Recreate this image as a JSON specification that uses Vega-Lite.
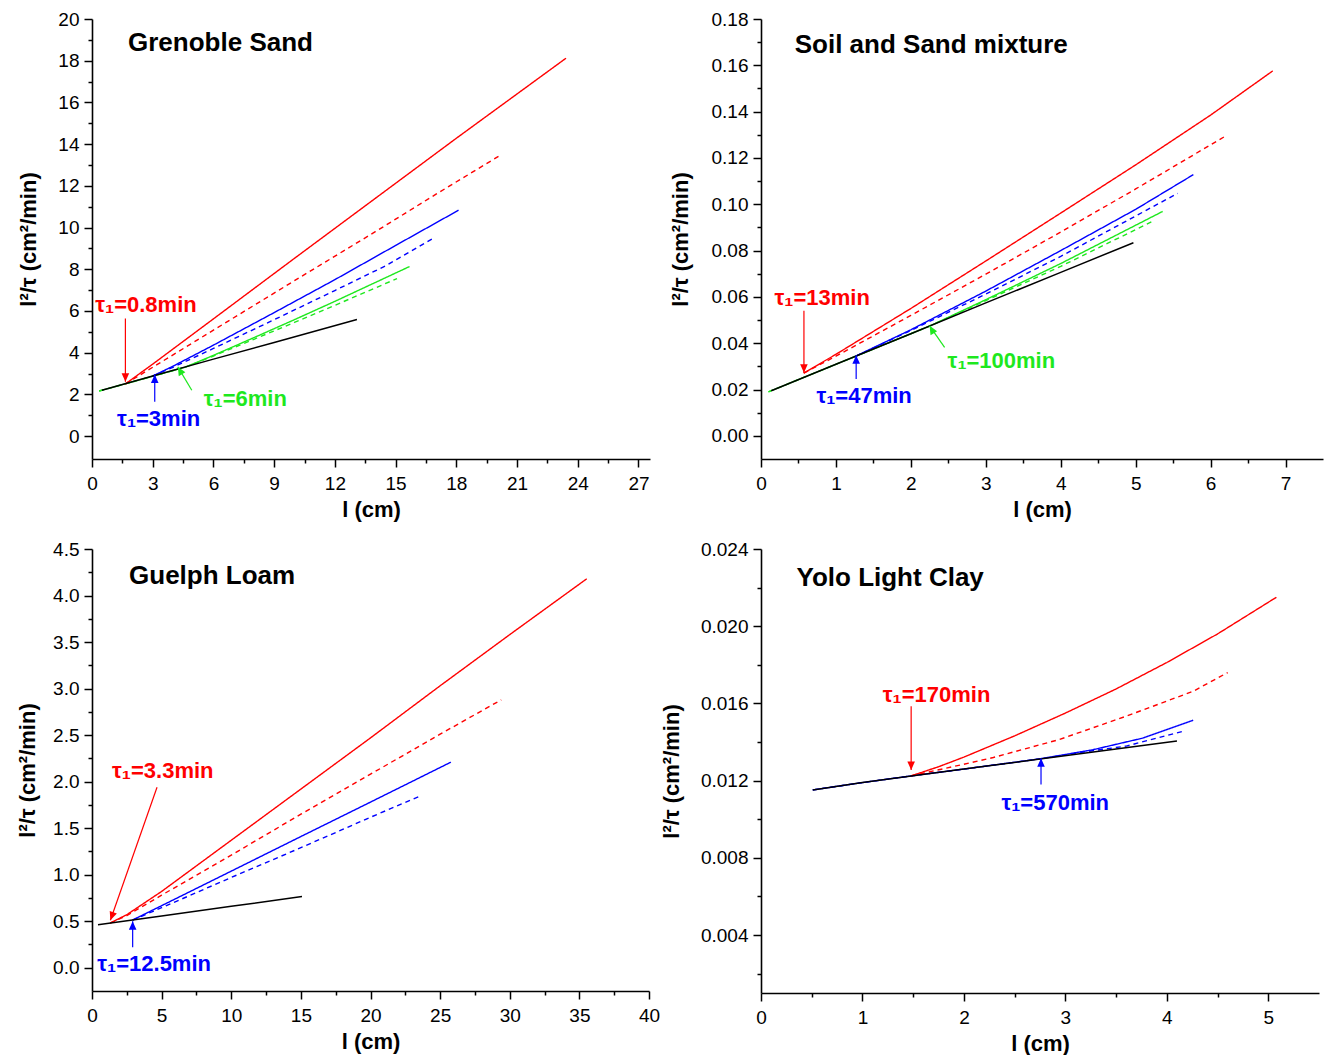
{
  "$schema": "https://vega.github.io/schema/vega-lite/v6.json",
  "background": "white",
  "padding": {"left": 16, "top": 10, "right": 6, "bottom": 6},
  "bounds": "flush",
  "align": "each",
  "columns": 2,
  "spacing": {"row": 90, "column": 111},
  "datasets": {
    "grenoble_curves": [
      {"x": 0.49, "y": 2.2, "color": "black", "style": "solid"},
      {"x": 3, "y": 2.88, "color": "black", "style": "solid"},
      {"x": 6, "y": 3.69, "color": "black", "style": "solid"},
      {"x": 9, "y": 4.49, "color": "black", "style": "solid"},
      {"x": 13.09, "y": 5.59, "color": "black", "style": "solid"},
      {"x": 0.35, "y": 2.16, "color": "green", "style": "solid"},
      {"x": 2, "y": 2.6, "color": "green", "style": "solid"},
      {"x": 4.6, "y": 3.3, "color": "green", "style": "solid"},
      {"x": 6, "y": 3.87, "color": "green", "style": "solid"},
      {"x": 8, "y": 4.72, "color": "green", "style": "solid"},
      {"x": 10, "y": 5.58, "color": "green", "style": "solid"},
      {"x": 12, "y": 6.46, "color": "green", "style": "solid"},
      {"x": 15.69, "y": 8.13, "color": "green", "style": "solid"},
      {"x": 0.35, "y": 2.16, "color": "green", "style": "dashed"},
      {"x": 2, "y": 2.6, "color": "green", "style": "dashed"},
      {"x": 4.6, "y": 3.3, "color": "green", "style": "dashed"},
      {"x": 6, "y": 3.84, "color": "green", "style": "dashed"},
      {"x": 8, "y": 4.64, "color": "green", "style": "dashed"},
      {"x": 10, "y": 5.45, "color": "green", "style": "dashed"},
      {"x": 12, "y": 6.27, "color": "green", "style": "dashed"},
      {"x": 15.07, "y": 7.55, "color": "green", "style": "dashed"},
      {"x": 3, "y": 2.88, "color": "blue", "style": "solid"},
      {"x": 4, "y": 3.35, "color": "blue", "style": "solid"},
      {"x": 6, "y": 4.36, "color": "blue", "style": "solid"},
      {"x": 9, "y": 5.92, "color": "blue", "style": "solid"},
      {"x": 12, "y": 7.5, "color": "blue", "style": "solid"},
      {"x": 15, "y": 9.14, "color": "blue", "style": "solid"},
      {"x": 18.11, "y": 10.83, "color": "blue", "style": "solid"},
      {"x": 3, "y": 2.88, "color": "blue", "style": "dashed"},
      {"x": 4, "y": 3.3, "color": "blue", "style": "dashed"},
      {"x": 6, "y": 4.2, "color": "blue", "style": "dashed"},
      {"x": 9, "y": 5.58, "color": "blue", "style": "dashed"},
      {"x": 12, "y": 6.98, "color": "blue", "style": "dashed"},
      {"x": 14.5, "y": 8.16, "color": "blue", "style": "dashed"},
      {"x": 16.93, "y": 9.52, "color": "blue", "style": "dashed"},
      {"x": 1.65, "y": 2.5, "color": "red", "style": "solid"},
      {"x": 3, "y": 3.45, "color": "red", "style": "solid"},
      {"x": 6, "y": 5.62, "color": "red", "style": "solid"},
      {"x": 10, "y": 8.52, "color": "red", "style": "solid"},
      {"x": 14, "y": 11.4, "color": "red", "style": "solid"},
      {"x": 18, "y": 14.28, "color": "red", "style": "solid"},
      {"x": 23.42, "y": 18.12, "color": "red", "style": "solid"},
      {"x": 1.65, "y": 2.5, "color": "red", "style": "dashed"},
      {"x": 3, "y": 3.3, "color": "red", "style": "dashed"},
      {"x": 6, "y": 5.08, "color": "red", "style": "dashed"},
      {"x": 10, "y": 7.45, "color": "red", "style": "dashed"},
      {"x": 14, "y": 9.8, "color": "red", "style": "dashed"},
      {"x": 17, "y": 11.6, "color": "red", "style": "dashed"},
      {"x": 20.13, "y": 13.44, "color": "red", "style": "dashed"}
    ],
    "grenoble_arrows": [
      {"x": 1.65, "y": 5.64, "x2": 1.65, "y2": 2.6, "color": "red", "dir": "down"},
      {"x": 3.1, "y": 1.64, "x2": 3.1, "y2": 2.95, "color": "blue", "dir": "up"},
      {"x": 4.93, "y": 2.2, "x2": 4.24, "y2": 3.32, "color": "green", "dir": "upleft"}
    ],
    "grenoble_notes": [
      {"x": 0.16, "y": 6.27, "text": "τ₁=0.8min", "color": "red"},
      {"x": 1.24, "y": 0.84, "text": "τ₁=3min", "color": "blue"},
      {"x": 5.52, "y": 1.8, "text": "τ₁=6min", "color": "green"}
    ],
    "soil_curves": [
      {"x": 0.137, "y": 0.0195, "color": "black", "style": "solid"},
      {"x": 1, "y": 0.0309, "color": "black", "style": "solid"},
      {"x": 2, "y": 0.0441, "color": "black", "style": "solid"},
      {"x": 3, "y": 0.0574, "color": "black", "style": "solid"},
      {"x": 4, "y": 0.0706, "color": "black", "style": "solid"},
      {"x": 4.97, "y": 0.0834, "color": "black", "style": "solid"},
      {"x": 0.1, "y": 0.019, "color": "green", "style": "solid"},
      {"x": 1, "y": 0.0309, "color": "green", "style": "solid"},
      {"x": 2.25, "y": 0.0474, "color": "green", "style": "solid"},
      {"x": 3, "y": 0.0588, "color": "green", "style": "solid"},
      {"x": 4, "y": 0.0744, "color": "green", "style": "solid"},
      {"x": 5.36, "y": 0.0969, "color": "green", "style": "solid"},
      {"x": 0.1, "y": 0.019, "color": "green", "style": "dashed"},
      {"x": 1, "y": 0.0309, "color": "green", "style": "dashed"},
      {"x": 2.25, "y": 0.0474, "color": "green", "style": "dashed"},
      {"x": 3, "y": 0.0584, "color": "green", "style": "dashed"},
      {"x": 4, "y": 0.0732, "color": "green", "style": "dashed"},
      {"x": 5.23, "y": 0.0927, "color": "green", "style": "dashed"},
      {"x": 1.27, "y": 0.0345, "color": "blue", "style": "solid"},
      {"x": 2, "y": 0.0458, "color": "blue", "style": "solid"},
      {"x": 3, "y": 0.0625, "color": "blue", "style": "solid"},
      {"x": 4, "y": 0.08, "color": "blue", "style": "solid"},
      {"x": 5, "y": 0.0978, "color": "blue", "style": "solid"},
      {"x": 5.77, "y": 0.1128, "color": "blue", "style": "solid"},
      {"x": 1.27, "y": 0.0345, "color": "blue", "style": "dashed"},
      {"x": 2, "y": 0.0455, "color": "blue", "style": "dashed"},
      {"x": 3, "y": 0.0612, "color": "blue", "style": "dashed"},
      {"x": 4, "y": 0.0775, "color": "blue", "style": "dashed"},
      {"x": 5.56, "y": 0.1047, "color": "blue", "style": "dashed"},
      {"x": 0.57, "y": 0.0271, "color": "red", "style": "solid"},
      {"x": 1, "y": 0.0352, "color": "red", "style": "solid"},
      {"x": 2, "y": 0.055, "color": "red", "style": "solid"},
      {"x": 3, "y": 0.0755, "color": "red", "style": "solid"},
      {"x": 4, "y": 0.0962, "color": "red", "style": "solid"},
      {"x": 5, "y": 0.117, "color": "red", "style": "solid"},
      {"x": 6, "y": 0.1385, "color": "red", "style": "solid"},
      {"x": 6.83, "y": 0.1576, "color": "red", "style": "solid"},
      {"x": 0.57, "y": 0.0271, "color": "red", "style": "dashed"},
      {"x": 1, "y": 0.0344, "color": "red", "style": "dashed"},
      {"x": 2, "y": 0.052, "color": "red", "style": "dashed"},
      {"x": 3, "y": 0.0698, "color": "red", "style": "dashed"},
      {"x": 4, "y": 0.088, "color": "red", "style": "dashed"},
      {"x": 5, "y": 0.1066, "color": "red", "style": "dashed"},
      {"x": 6.18, "y": 0.1291, "color": "red", "style": "dashed"}
    ],
    "soil_arrows": [
      {"x": 0.573, "y": 0.054, "x2": 0.573, "y2": 0.0272, "color": "red", "dir": "down"},
      {"x": 1.27, "y": 0.0245, "x2": 1.27, "y2": 0.0348, "color": "blue", "dir": "up"},
      {"x": 2.45, "y": 0.0382, "x2": 2.25, "y2": 0.0475, "color": "green", "dir": "upleft"}
    ],
    "soil_notes": [
      {"x": 0.18, "y": 0.0597, "text": "τ₁=13min", "color": "red"},
      {"x": 0.74, "y": 0.01736, "text": "τ₁=47min", "color": "blue"},
      {"x": 2.49, "y": 0.0322, "text": "τ₁=100min", "color": "green"}
    ],
    "guelph_curves": [
      {"x": 0.43, "y": 0.461, "color": "black", "style": "solid"},
      {"x": 5, "y": 0.556, "color": "black", "style": "solid"},
      {"x": 10, "y": 0.66, "color": "black", "style": "solid"},
      {"x": 15.08, "y": 0.765, "color": "black", "style": "solid"},
      {"x": 1.3, "y": 0.48, "color": "red", "style": "solid"},
      {"x": 2.5, "y": 0.57, "color": "red", "style": "solid"},
      {"x": 5, "y": 0.82, "color": "red", "style": "solid"},
      {"x": 10, "y": 1.37, "color": "red", "style": "solid"},
      {"x": 15, "y": 1.92, "color": "red", "style": "solid"},
      {"x": 20, "y": 2.47, "color": "red", "style": "solid"},
      {"x": 25, "y": 3.03, "color": "red", "style": "solid"},
      {"x": 30, "y": 3.58, "color": "red", "style": "solid"},
      {"x": 35.53, "y": 4.18, "color": "red", "style": "solid"},
      {"x": 1.3, "y": 0.48, "color": "red", "style": "dashed"},
      {"x": 2.5, "y": 0.56, "color": "red", "style": "dashed"},
      {"x": 5, "y": 0.78, "color": "red", "style": "dashed"},
      {"x": 10, "y": 1.21, "color": "red", "style": "dashed"},
      {"x": 15, "y": 1.65, "color": "red", "style": "dashed"},
      {"x": 20, "y": 2.08, "color": "red", "style": "dashed"},
      {"x": 25, "y": 2.51, "color": "red", "style": "dashed"},
      {"x": 29.39, "y": 2.879, "color": "red", "style": "dashed"},
      {"x": 2.92, "y": 0.513, "color": "blue", "style": "solid"},
      {"x": 5, "y": 0.667, "color": "blue", "style": "solid"},
      {"x": 10, "y": 1.038, "color": "blue", "style": "solid"},
      {"x": 15, "y": 1.41, "color": "blue", "style": "solid"},
      {"x": 20, "y": 1.78, "color": "blue", "style": "solid"},
      {"x": 25.77, "y": 2.209, "color": "blue", "style": "solid"},
      {"x": 2.92, "y": 0.513, "color": "blue", "style": "dashed"},
      {"x": 5, "y": 0.645, "color": "blue", "style": "dashed"},
      {"x": 10, "y": 0.97, "color": "blue", "style": "dashed"},
      {"x": 15, "y": 1.29, "color": "blue", "style": "dashed"},
      {"x": 20, "y": 1.617, "color": "blue", "style": "dashed"},
      {"x": 23.64, "y": 1.85, "color": "blue", "style": "dashed"}
    ],
    "guelph_arrows": [
      {"x": 4.67, "y": 1.94, "x2": 1.32, "y2": 0.51, "color": "red", "dir": "downleft"},
      {"x": 2.92, "y": 0.22, "x2": 2.92, "y2": 0.5, "color": "blue", "dir": "up"}
    ],
    "guelph_notes": [
      {"x": 1.44, "y": 2.11, "text": "τ₁=3.3min", "color": "red"},
      {"x": 0.38, "y": 0.04, "text": "τ₁=12.5min", "color": "blue"}
    ],
    "yolo_curves": [
      {"x": 0.51, "y": 0.01152, "color": "black", "style": "solid"},
      {"x": 1.0, "y": 0.0119, "color": "black", "style": "solid"},
      {"x": 1.5, "y": 0.01226, "color": "black", "style": "solid"},
      {"x": 2.0, "y": 0.0126, "color": "black", "style": "solid"},
      {"x": 2.75, "y": 0.01312, "color": "black", "style": "solid"},
      {"x": 3.5, "y": 0.01364, "color": "black", "style": "solid"},
      {"x": 4.1, "y": 0.01406, "color": "black", "style": "solid"},
      {"x": 0.51, "y": 0.01152, "color": "blue", "style": "solid"},
      {"x": 1.0, "y": 0.0119, "color": "blue", "style": "solid"},
      {"x": 1.5, "y": 0.01226, "color": "blue", "style": "solid"},
      {"x": 2.0, "y": 0.0126, "color": "blue", "style": "solid"},
      {"x": 2.75, "y": 0.01313, "color": "blue", "style": "solid"},
      {"x": 3.27, "y": 0.0136, "color": "blue", "style": "solid"},
      {"x": 3.76, "y": 0.0142, "color": "blue", "style": "solid"},
      {"x": 4.26, "y": 0.01513, "color": "blue", "style": "solid"},
      {"x": 0.51, "y": 0.01152, "color": "blue", "style": "dashed"},
      {"x": 1.0, "y": 0.0119, "color": "blue", "style": "dashed"},
      {"x": 1.5, "y": 0.01226, "color": "blue", "style": "dashed"},
      {"x": 2.0, "y": 0.0126, "color": "blue", "style": "dashed"},
      {"x": 2.75, "y": 0.01313, "color": "blue", "style": "dashed"},
      {"x": 3.2, "y": 0.0135, "color": "blue", "style": "dashed"},
      {"x": 3.6, "y": 0.01379, "color": "blue", "style": "dashed"},
      {"x": 4.16, "y": 0.01456, "color": "blue", "style": "dashed"},
      {"x": 1.48, "y": 0.01225, "color": "red", "style": "solid"},
      {"x": 1.75, "y": 0.01272, "color": "red", "style": "solid"},
      {"x": 2.0, "y": 0.01322, "color": "red", "style": "solid"},
      {"x": 2.5, "y": 0.01432, "color": "red", "style": "solid"},
      {"x": 3.0, "y": 0.0155, "color": "red", "style": "solid"},
      {"x": 3.5, "y": 0.01675, "color": "red", "style": "solid"},
      {"x": 4.0, "y": 0.01812, "color": "red", "style": "solid"},
      {"x": 4.5, "y": 0.0196, "color": "red", "style": "solid"},
      {"x": 5.08, "y": 0.0215, "color": "red", "style": "solid"},
      {"x": 1.48, "y": 0.01225, "color": "red", "style": "dashed"},
      {"x": 2.0, "y": 0.01285, "color": "red", "style": "dashed"},
      {"x": 2.29, "y": 0.0132, "color": "red", "style": "dashed"},
      {"x": 2.94, "y": 0.01413, "color": "red", "style": "dashed"},
      {"x": 3.6, "y": 0.01534, "color": "red", "style": "dashed"},
      {"x": 4.26, "y": 0.01663, "color": "red", "style": "dashed"},
      {"x": 4.6, "y": 0.0176, "color": "red", "style": "dashed"}
    ],
    "yolo_arrows": [
      {"x": 1.48, "y": 0.01586, "x2": 1.48, "y2": 0.01255, "color": "red", "dir": "down"},
      {"x": 2.76, "y": 0.0118, "x2": 2.76, "y2": 0.01316, "color": "blue", "dir": "up"}
    ],
    "yolo_notes": [
      {"x": 1.2, "y": 0.01646, "text": "τ₁=170min", "color": "red"},
      {"x": 2.37, "y": 0.01085, "text": "τ₁=570min", "color": "blue"}
    ]
  },
  "concat": [
    {
      "width": 558,
      "height": 440,
      "resolve": {"axis": {"x": "independent", "y": "independent"}},
      "layer": [
        {
          "data": {"name": "grenoble_curves"},
          "transform": [{"filter": "datum.color != 'black'"}],
          "mark": {"type": "line", "strokeWidth": 1.4},
          "encoding": {
            "x": {"field": "x", "type": "quantitative", "scale": {"domain": [0, 27.57], "nice": false, "zero": false},
                  "axis": {"orient": "bottom", "values": [0, 3, 6, 9, 12, 15, 18, 21, 24, 27], "format": "d", "title": "l (cm)"}},
            "y": {"field": "y", "type": "quantitative", "scale": {"domain": [-1.1, 20], "nice": false, "zero": false},
                  "axis": {"orient": "left", "values": [0, 2, 4, 6, 8, 10, 12, 14, 16, 18, 20], "format": "d", "title": "l²/τ (cm²/min)", "titlePadding": 17}},
            "color": {"field": "color", "type": "nominal", "scale": {"domain": ["black", "red", "blue", "green"], "range": ["#000000", "#ff0000", "#0000ff", "#1ee81e"]}, "legend": null},
            "strokeDash": {"field": "style", "type": "nominal", "scale": {"domain": ["solid", "dashed"], "range": [[1, 0], [5, 4]]}, "legend": null}
          }
        },
        {
          "data": {"name": "grenoble_curves"},
          "transform": [{"filter": "datum.color == 'black'"}],
          "mark": {"type": "line", "strokeWidth": 1.5, "color": "#000000"},
          "encoding": {
            "x": {"field": "x", "type": "quantitative", "axis": {"orient": "bottom", "values": [1.5, 4.5, 7.5, 10.5, 13.5, 16.5, 19.5, 22.5, 25.5], "labels": false, "domain": false, "tickSize": 4, "title": null}},
            "y": {"field": "y", "type": "quantitative", "axis": {"orient": "left", "values": [1, 3, 5, 7, 9, 11, 13, 15, 17, 19], "labels": false, "domain": false, "tickSize": 4, "title": null}}
          }
        },
        {
          "data": {"name": "grenoble_arrows"},
          "mark": {"type": "rule", "strokeWidth": 1.2},
          "encoding": {
            "x": {"field": "x", "type": "quantitative", "axis": null},
            "y": {"field": "y", "type": "quantitative", "axis": null},
            "x2": {"field": "x2"},
            "y2": {"field": "y2"},
            "color": {"field": "color", "type": "nominal", "legend": null}
          }
        },
        {
          "data": {"name": "grenoble_arrows"},
          "mark": {"type": "point", "filled": true, "opacity": 1, "size": 160, "strokeWidth": 0},
          "encoding": {
            "x": {"field": "x2", "type": "quantitative", "axis": null},
            "y": {"field": "y2", "type": "quantitative", "axis": null},
            "shape": {"field": "dir", "type": "nominal", "legend": null,
                      "scale": {"domain": ["up", "down", "upleft", "downleft"], "range": ["M0,0L-0.6,1.35L0.6,1.35Z", "M0,0L-0.6,-1.35L0.6,-1.35Z", "M0,0L0.15,1.47L1.19,0.87Z", "M0,0L1.023,-1.064L-0.105,-1.474Z"]}},
            "color": {"field": "color", "type": "nominal", "legend": null}
          }
        },
        {
          "data": {"name": "grenoble_notes"},
          "mark": {"type": "text", "align": "left", "baseline": "middle", "font": "Liberation Sans", "fontSize": 22, "fontWeight": "bold"},
          "encoding": {
            "x": {"field": "x", "type": "quantitative", "axis": null},
            "y": {"field": "y", "type": "quantitative", "axis": null},
            "text": {"field": "text"},
            "color": {"field": "color", "type": "nominal", "legend": null}
          }
        },
        {
          "data": {"values": [{"x": 1.78, "y": 18.87, "name": "Grenoble Sand"}]},
          "mark": {"type": "text", "align": "left", "baseline": "middle", "font": "Liberation Sans", "fontSize": 26, "fontWeight": "bold", "color": "#000000"},
          "encoding": {
            "x": {"field": "x", "type": "quantitative", "axis": null},
            "y": {"field": "y", "type": "quantitative", "axis": null},
            "text": {"field": "name"}
          }
        }
      ]
    },
    {
      "width": 562,
      "height": 440,
      "resolve": {"axis": {"x": "independent", "y": "independent"}},
      "layer": [
        {
          "data": {"name": "soil_curves"},
          "transform": [{"filter": "datum.color != 'black'"}],
          "mark": {"type": "line", "strokeWidth": 1.4},
          "encoding": {
            "x": {"field": "x", "type": "quantitative", "scale": {"domain": [0, 7.5], "nice": false, "zero": false},
                  "axis": {"orient": "bottom", "values": [0, 1, 2, 3, 4, 5, 6, 7], "format": "d", "title": "l (cm)"}},
            "y": {"field": "y", "type": "quantitative", "scale": {"domain": [-0.01, 0.18], "nice": false, "zero": false},
                  "axis": {"orient": "left", "values": [0, 0.02, 0.04, 0.06, 0.08, 0.1, 0.12, 0.14, 0.16, 0.18], "format": ".2f", "title": "l²/τ (cm²/min)", "titlePadding": 19}},
            "color": {"field": "color", "type": "nominal", "scale": {"domain": ["black", "red", "blue", "green"], "range": ["#000000", "#ff0000", "#0000ff", "#1ee81e"]}, "legend": null},
            "strokeDash": {"field": "style", "type": "nominal", "scale": {"domain": ["solid", "dashed"], "range": [[1, 0], [5, 4]]}, "legend": null}
          }
        },
        {
          "data": {"name": "soil_curves"},
          "transform": [{"filter": "datum.color == 'black'"}],
          "mark": {"type": "line", "strokeWidth": 1.5, "color": "#000000"},
          "encoding": {
            "x": {"field": "x", "type": "quantitative", "axis": {"orient": "bottom", "values": [0.5, 1.5, 2.5, 3.5, 4.5, 5.5, 6.5], "labels": false, "domain": false, "tickSize": 4, "title": null}},
            "y": {"field": "y", "type": "quantitative", "axis": {"orient": "left", "values": [0.01, 0.03, 0.05, 0.07, 0.09, 0.11, 0.13, 0.15, 0.17], "labels": false, "domain": false, "tickSize": 4, "title": null}}
          }
        },
        {
          "data": {"name": "soil_arrows"},
          "mark": {"type": "rule", "strokeWidth": 1.2},
          "encoding": {
            "x": {"field": "x", "type": "quantitative", "axis": null},
            "y": {"field": "y", "type": "quantitative", "axis": null},
            "x2": {"field": "x2"},
            "y2": {"field": "y2"},
            "color": {"field": "color", "type": "nominal", "legend": null}
          }
        },
        {
          "data": {"name": "soil_arrows"},
          "mark": {"type": "point", "filled": true, "opacity": 1, "size": 160, "strokeWidth": 0},
          "encoding": {
            "x": {"field": "x2", "type": "quantitative", "axis": null},
            "y": {"field": "y2", "type": "quantitative", "axis": null},
            "shape": {"field": "dir", "type": "nominal", "legend": null,
                      "scale": {"domain": ["up", "down", "upleft", "downleft"], "range": ["M0,0L-0.6,1.35L0.6,1.35Z", "M0,0L-0.6,-1.35L0.6,-1.35Z", "M0,0L0.15,1.47L1.19,0.87Z", "M0,0L1.023,-1.064L-0.105,-1.474Z"]}},
            "color": {"field": "color", "type": "nominal", "legend": null}
          }
        },
        {
          "data": {"name": "soil_notes"},
          "mark": {"type": "text", "align": "left", "baseline": "middle", "font": "Liberation Sans", "fontSize": 22, "fontWeight": "bold"},
          "encoding": {
            "x": {"field": "x", "type": "quantitative", "axis": null},
            "y": {"field": "y", "type": "quantitative", "axis": null},
            "text": {"field": "text"},
            "color": {"field": "color", "type": "nominal", "legend": null}
          }
        },
        {
          "data": {"values": [{"x": 0.45, "y": 0.1688, "name": "Soil and Sand mixture"}]},
          "mark": {"type": "text", "align": "left", "baseline": "middle", "font": "Liberation Sans", "fontSize": 26, "fontWeight": "bold", "color": "#000000"},
          "encoding": {
            "x": {"field": "x", "type": "quantitative", "axis": null},
            "y": {"field": "y", "type": "quantitative", "axis": null},
            "text": {"field": "name"}
          }
        }
      ]
    },
    {
      "width": 557,
      "height": 442,
      "resolve": {"axis": {"x": "independent", "y": "independent"}},
      "layer": [
        {
          "data": {"name": "guelph_curves"},
          "transform": [{"filter": "datum.color != 'black'"}],
          "mark": {"type": "line", "strokeWidth": 1.4},
          "encoding": {
            "x": {"field": "x", "type": "quantitative", "scale": {"domain": [0, 40], "nice": false, "zero": false},
                  "axis": {"orient": "bottom", "values": [0, 5, 10, 15, 20, 25, 30, 35, 40], "format": "d", "title": "l (cm)"}},
            "y": {"field": "y", "type": "quantitative", "scale": {"domain": [-0.25, 4.5], "nice": false, "zero": false},
                  "axis": {"orient": "left", "values": [0, 0.5, 1, 1.5, 2, 2.5, 3, 3.5, 4, 4.5], "format": ".1f", "title": "l²/τ (cm²/min)", "titlePadding": 13}},
            "color": {"field": "color", "type": "nominal", "scale": {"domain": ["black", "red", "blue", "green"], "range": ["#000000", "#ff0000", "#0000ff", "#1ee81e"]}, "legend": null},
            "strokeDash": {"field": "style", "type": "nominal", "scale": {"domain": ["solid", "dashed"], "range": [[1, 0], [5, 4]]}, "legend": null}
          }
        },
        {
          "data": {"name": "guelph_curves"},
          "transform": [{"filter": "datum.color == 'black'"}],
          "mark": {"type": "line", "strokeWidth": 1.5, "color": "#000000"},
          "encoding": {
            "x": {"field": "x", "type": "quantitative", "axis": {"orient": "bottom", "values": [2.5, 7.5, 12.5, 17.5, 22.5, 27.5, 32.5, 37.5], "labels": false, "domain": false, "tickSize": 4, "title": null}},
            "y": {"field": "y", "type": "quantitative", "axis": {"orient": "left", "values": [0.25, 0.75, 1.25, 1.75, 2.25, 2.75, 3.25, 3.75, 4.25], "labels": false, "domain": false, "tickSize": 4, "title": null}}
          }
        },
        {
          "data": {"name": "guelph_arrows"},
          "mark": {"type": "rule", "strokeWidth": 1.2},
          "encoding": {
            "x": {"field": "x", "type": "quantitative", "axis": null},
            "y": {"field": "y", "type": "quantitative", "axis": null},
            "x2": {"field": "x2"},
            "y2": {"field": "y2"},
            "color": {"field": "color", "type": "nominal", "legend": null}
          }
        },
        {
          "data": {"name": "guelph_arrows"},
          "mark": {"type": "point", "filled": true, "opacity": 1, "size": 160, "strokeWidth": 0},
          "encoding": {
            "x": {"field": "x2", "type": "quantitative", "axis": null},
            "y": {"field": "y2", "type": "quantitative", "axis": null},
            "shape": {"field": "dir", "type": "nominal", "legend": null,
                      "scale": {"domain": ["up", "down", "upleft", "downleft"], "range": ["M0,0L-0.6,1.35L0.6,1.35Z", "M0,0L-0.6,-1.35L0.6,-1.35Z", "M0,0L0.15,1.47L1.19,0.87Z", "M0,0L1.023,-1.064L-0.105,-1.474Z"]}},
            "color": {"field": "color", "type": "nominal", "legend": null}
          }
        },
        {
          "data": {"name": "guelph_notes"},
          "mark": {"type": "text", "align": "left", "baseline": "middle", "font": "Liberation Sans", "fontSize": 22, "fontWeight": "bold"},
          "encoding": {
            "x": {"field": "x", "type": "quantitative", "axis": null},
            "y": {"field": "y", "type": "quantitative", "axis": null},
            "text": {"field": "text"},
            "color": {"field": "color", "type": "nominal", "legend": null}
          }
        },
        {
          "data": {"values": [{"x": 2.66, "y": 4.21, "name": "Guelph Loam"}]},
          "mark": {"type": "text", "align": "left", "baseline": "middle", "font": "Liberation Sans", "fontSize": 26, "fontWeight": "bold", "color": "#000000"},
          "encoding": {
            "x": {"field": "x", "type": "quantitative", "axis": null},
            "y": {"field": "y", "type": "quantitative", "axis": null},
            "text": {"field": "name"}
          }
        }
      ]
    },
    {
      "width": 558,
      "height": 444,
      "resolve": {"axis": {"x": "independent", "y": "independent"}},
      "layer": [
        {
          "data": {"name": "yolo_curves"},
          "transform": [{"filter": "datum.color != 'black'"}],
          "mark": {"type": "line", "strokeWidth": 1.4},
          "encoding": {
            "x": {"field": "x", "type": "quantitative", "scale": {"domain": [0, 5.5], "nice": false, "zero": false},
                  "axis": {"orient": "bottom", "values": [0, 1, 2, 3, 4, 5], "format": "d", "title": "l (cm)"}},
            "y": {"field": "y", "type": "quantitative", "scale": {"domain": [0.001, 0.024], "nice": false, "zero": false},
                  "axis": {"orient": "left", "values": [0.004, 0.008, 0.012, 0.016, 0.02, 0.024], "format": ".3f", "title": "l²/τ (cm²/min)", "titlePadding": 17}},
            "color": {"field": "color", "type": "nominal", "scale": {"domain": ["black", "red", "blue", "green"], "range": ["#000000", "#ff0000", "#0000ff", "#1ee81e"]}, "legend": null},
            "strokeDash": {"field": "style", "type": "nominal", "scale": {"domain": ["solid", "dashed"], "range": [[1, 0], [5, 4]]}, "legend": null}
          }
        },
        {
          "data": {"name": "yolo_curves"},
          "transform": [{"filter": "datum.color == 'black'"}],
          "mark": {"type": "line", "strokeWidth": 1.5, "color": "#000000"},
          "encoding": {
            "x": {"field": "x", "type": "quantitative", "axis": {"orient": "bottom", "values": [0.5, 1.5, 2.5, 3.5, 4.5], "labels": false, "domain": false, "tickSize": 4, "title": null}},
            "y": {"field": "y", "type": "quantitative", "axis": {"orient": "left", "values": [0.002, 0.006, 0.01, 0.014, 0.018, 0.022], "labels": false, "domain": false, "tickSize": 4, "title": null}}
          }
        },
        {
          "data": {"name": "yolo_arrows"},
          "mark": {"type": "rule", "strokeWidth": 1.2},
          "encoding": {
            "x": {"field": "x", "type": "quantitative", "axis": null},
            "y": {"field": "y", "type": "quantitative", "axis": null},
            "x2": {"field": "x2"},
            "y2": {"field": "y2"},
            "color": {"field": "color", "type": "nominal", "legend": null}
          }
        },
        {
          "data": {"name": "yolo_arrows"},
          "mark": {"type": "point", "filled": true, "opacity": 1, "size": 160, "strokeWidth": 0},
          "encoding": {
            "x": {"field": "x2", "type": "quantitative", "axis": null},
            "y": {"field": "y2", "type": "quantitative", "axis": null},
            "shape": {"field": "dir", "type": "nominal", "legend": null,
                      "scale": {"domain": ["up", "down", "upleft", "downleft"], "range": ["M0,0L-0.6,1.35L0.6,1.35Z", "M0,0L-0.6,-1.35L0.6,-1.35Z", "M0,0L0.15,1.47L1.19,0.87Z", "M0,0L1.023,-1.064L-0.105,-1.474Z"]}},
            "color": {"field": "color", "type": "nominal", "legend": null}
          }
        },
        {
          "data": {"name": "yolo_notes"},
          "mark": {"type": "text", "align": "left", "baseline": "middle", "font": "Liberation Sans", "fontSize": 22, "fontWeight": "bold"},
          "encoding": {
            "x": {"field": "x", "type": "quantitative", "axis": null},
            "y": {"field": "y", "type": "quantitative", "axis": null},
            "text": {"field": "text"},
            "color": {"field": "color", "type": "nominal", "legend": null}
          }
        },
        {
          "data": {"values": [{"x": 0.35, "y": 0.0225, "name": "Yolo Light Clay"}]},
          "mark": {"type": "text", "align": "left", "baseline": "middle", "font": "Liberation Sans", "fontSize": 26, "fontWeight": "bold", "color": "#000000"},
          "encoding": {
            "x": {"field": "x", "type": "quantitative", "axis": null},
            "y": {"field": "y", "type": "quantitative", "axis": null},
            "text": {"field": "name"}
          }
        }
      ]
    }
  ],
  "config": {
    "font": "Liberation Sans",
    "view": {"stroke": null},
    "axis": {
      "domainColor": "#000000",
      "domainWidth": 1.6,
      "tickColor": "#000000",
      "tickWidth": 1.5,
      "tickSize": 8,
      "labelFont": "Liberation Sans",
      "labelFontSize": 19,
      "labelColor": "#000000",
      "labelPadding": 5,
      "labelFlush": false,
      "labelOverlap": false,
      "labelBound": false,
      "titleFont": "Liberation Sans",
      "titleFontSize": 22,
      "titleFontWeight": "bold",
      "titleColor": "#000000",
      "grid": false
    },
    "axisX": {"labelPadding": 7, "titlePadding": 6}
  }
}
